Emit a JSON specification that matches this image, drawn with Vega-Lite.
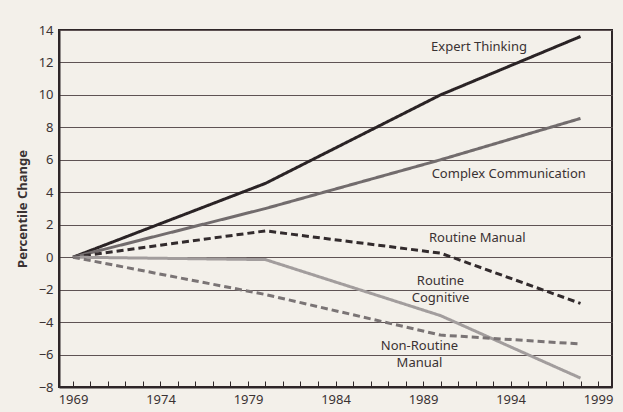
{
  "$schema": "https://vega.github.io/schema/vega-lite/v6.json",
  "autosize": {"type": "none"},
  "width": 553,
  "height": 357,
  "padding": {"left": 59, "top": 30, "right": 11, "bottom": 25},
  "background": "#f3f0ea",
  "config": {
    "font": "Noto Sans",
    "view": {"stroke": "#2e2628", "strokeWidth": 2},
    "axis": {"labelFont": "Noto Sans", "titleFont": "Noto Sans"}
  },
  "datasets": {
    "series": [
      {"task": "Expert Thinking", "year": 1969, "value": 0},
      {"task": "Expert Thinking", "year": 1980, "value": 4.55},
      {"task": "Expert Thinking", "year": 1990, "value": 10.0},
      {"task": "Expert Thinking", "year": 1998, "value": 13.6},
      {"task": "Complex Communication", "year": 1969, "value": 0},
      {"task": "Complex Communication", "year": 1980, "value": 3.0},
      {"task": "Complex Communication", "year": 1990, "value": 6.0},
      {"task": "Complex Communication", "year": 1998, "value": 8.55},
      {"task": "Routine Manual", "year": 1969, "value": 0},
      {"task": "Routine Manual", "year": 1980, "value": 1.62},
      {"task": "Routine Manual", "year": 1990, "value": 0.25},
      {"task": "Routine Manual", "year": 1998, "value": -2.85},
      {"task": "Routine Cognitive", "year": 1969, "value": 0},
      {"task": "Routine Cognitive", "year": 1980, "value": -0.15},
      {"task": "Routine Cognitive", "year": 1990, "value": -3.6},
      {"task": "Routine Cognitive", "year": 1998, "value": -7.45},
      {"task": "Non-Routine Manual", "year": 1969, "value": 0},
      {"task": "Non-Routine Manual", "year": 1980, "value": -2.3},
      {"task": "Non-Routine Manual", "year": 1990, "value": -4.8},
      {"task": "Non-Routine Manual", "year": 1998, "value": -5.35}
    ],
    "labels": [
      {"text": "Expert Thinking", "year": 1992.2, "value": 12.95},
      {"text": "Complex Communication", "year": 1993.9, "value": 5.1},
      {"text": "Routine Manual", "year": 1992.1, "value": 1.2},
      {"text": "Routine", "year": 1990.0, "value": -1.48},
      {"text": "Cognitive", "year": 1990.0, "value": -2.5},
      {"text": "Non-Routine", "year": 1988.8, "value": -5.48},
      {"text": "Manual", "year": 1988.8, "value": -6.55}
    ]
  },
  "layer": [
    {
      "data": {"name": "series"},
      "mark": {"type": "line", "strokeWidth": 3, "strokeCap": "butt", "strokeJoin": "miter"},
      "encoding": {
        "x": {
          "field": "year", "type": "quantitative",
          "scale": {"domain": [1968.2, 1999.8], "nice": false, "zero": false},
          "axis": {
            "values": [1969,1970,1971,1972,1973,1974,1975,1976,1977,1978,1979,1980,1981,1982,1983,1984,1985,1986,1987,1988,1989,1990,1991,1992,1993,1994,1995,1996,1997,1998,1999],
            "tickCount": 40,
            "labelOverlap": false,
            "labelExpr": "(datum.value - 1969) % 5 == 0 ? datum.value : ''",
            "format": "d",
            "title": null,
            "grid": false,
            "domain": true,
            "domainColor": "#2e2628",
            "domainWidth": 2,
            "tickColor": "#2e2628",
            "tickWidth": 1,
            "tickSize": -6,
            "labelPadding": 12,
            "labelFontSize": 13,
            "labelColor": "#3a3233",
            "labelFlush": false
          }
        },
        "y": {
          "field": "value", "type": "quantitative",
          "scale": {"domain": [-8, 14], "nice": false},
          "axis": {
            "values": [-8,-6,-4,-2,0,2,4,6,8,10,12,14],
            "tickCount": 20,
            "labelOverlap": false,
            "title": "Percentile Change",
            "titleFontSize": 13,
            "titleFontWeight": "bold",
            "titleColor": "#3a3233",
            "titlePadding": 9,
            "labelFontSize": 13,
            "labelColor": "#3a3233",
            "labelPadding": 6,
            "ticks": false,
            "domain": true,
            "domainColor": "#2e2628",
            "domainWidth": 2,
            "grid": true,
            "gridColor": "#5e5354",
            "gridWidth": 1.2,
            "gridOpacity": 1
          }
        },
        "color": {
          "field": "task", "type": "nominal", "legend": null,
          "scale": {
            "domain": ["Expert Thinking", "Complex Communication", "Routine Manual", "Routine Cognitive", "Non-Routine Manual"],
            "range": ["#2a2325", "#726c6d", "#322b2d", "#a29d9d", "#7a7475"]
          }
        },
        "strokeDash": {
          "field": "task", "type": "nominal", "legend": null,
          "scale": {
            "domain": ["Expert Thinking", "Complex Communication", "Routine Manual", "Routine Cognitive", "Non-Routine Manual"],
            "range": [[1, 0], [1, 0], [7, 4], [1, 0], [7, 4]]
          }
        }
      }
    },
    {
      "data": {"name": "labels"},
      "mark": {"type": "text", "fontSize": 13, "color": "#3a3233", "align": "center", "baseline": "middle"},
      "encoding": {
        "x": {"field": "year", "type": "quantitative"},
        "y": {"field": "value", "type": "quantitative"},
        "text": {"field": "text"}
      }
    }
  ]
}
